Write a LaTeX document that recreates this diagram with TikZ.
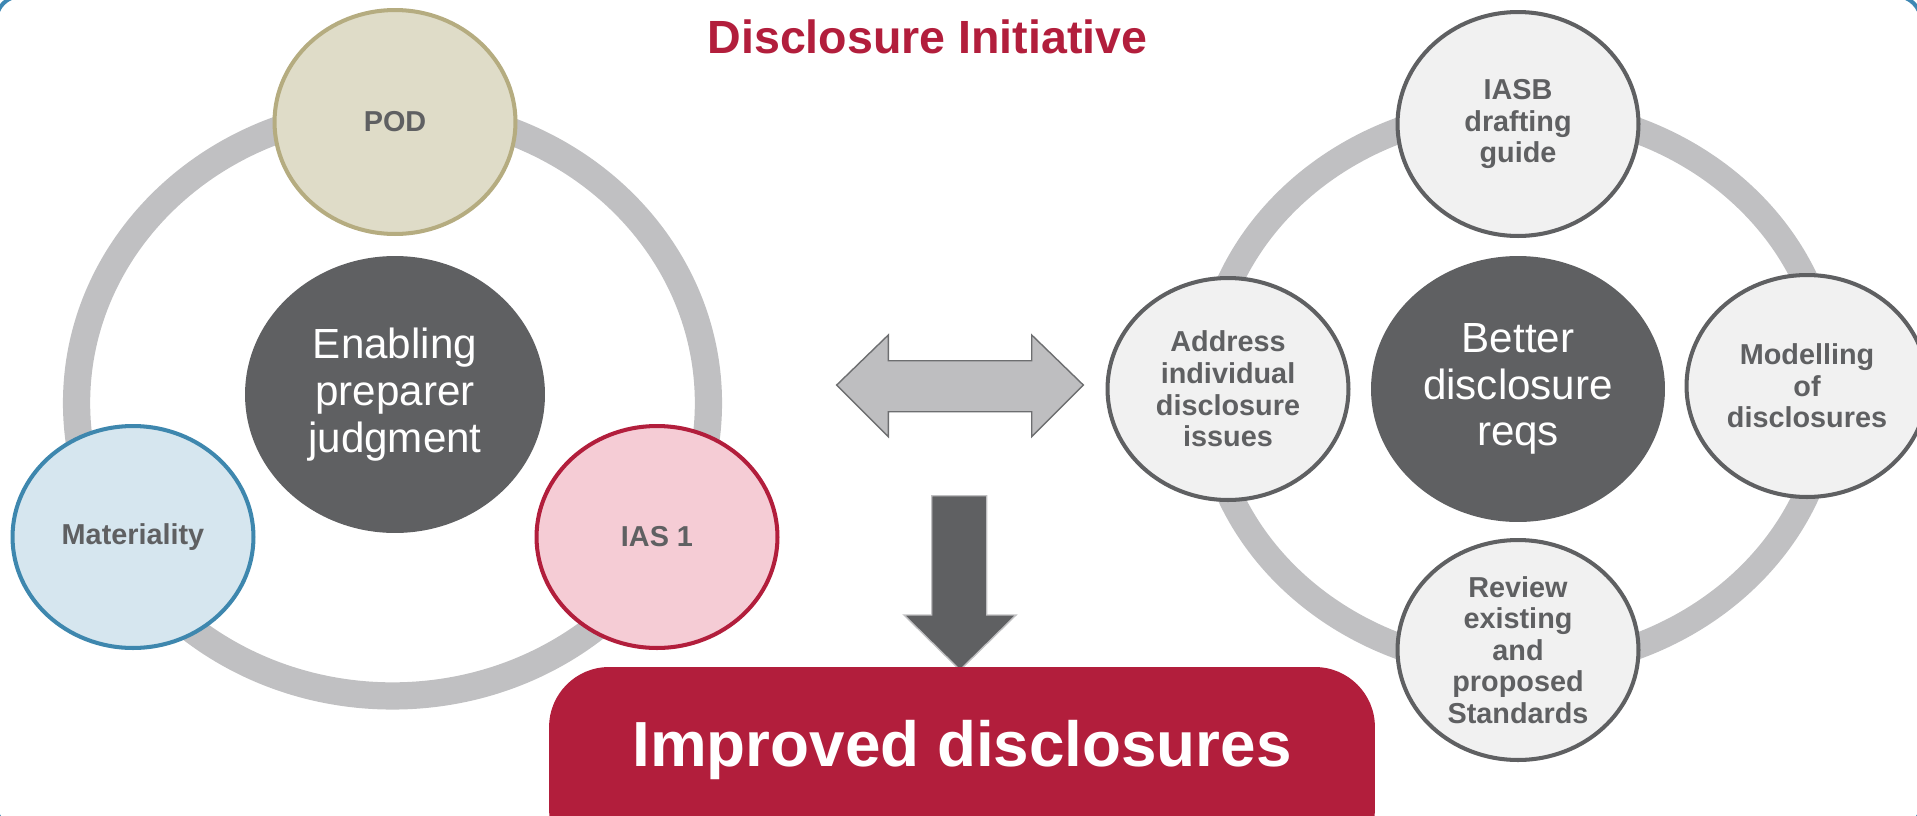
\documentclass[tikz,border=0pt]{standalone}
\usepackage{fontspec}
\setmainfont{Liberation Sans}
\usetikzlibrary{shapes.geometric}

\definecolor{frameblue}{HTML}{3D87B3}
\definecolor{ifrsred}{HTML}{B21E3C}
\definecolor{coregrey}{HTML}{5F6062}
\definecolor{ringgrey}{HTML}{C0C0C2}
\definecolor{bubblefill}{HTML}{F1F1F1}
\definecolor{podfill}{HTML}{DFDCC8}
\definecolor{podedge}{HTML}{B5AC80}
\definecolor{matfill}{HTML}{D6E6EF}
\definecolor{matedge}{HTML}{3E87AE}
\definecolor{iasfill}{HTML}{F5CCD5}
\definecolor{arrowfill}{HTML}{BEBEC0}
\definecolor{arrowedge}{HTML}{6D6E70}

\tikzset{
    %Define style for the small bubbles
    punkt/.style={
           ellipse,
           draw=coregrey, line width=2.3pt,
           fill=bubblefill,
           inner sep=0pt,
           minimum width=4.82cm,
           minimum height=4.44cm,
           align=center,
           text=coregrey,
           font=\fontsize{16.4}{18}\selectfont\bfseries},
    %Define style for the dark centre bubbles
    kjerne/.style={
           ellipse,
           fill=coregrey,
           inner sep=0pt,
           align=center,
           text=white,
           font=\fontsize{24}{26.6}\selectfont},
    % Define style for the grey rings
    ring/.style={
           draw=ringgrey,
           line width=15.5pt},
    % Define style for the block arrows
    blokkpil/.style={
           line width=0.8pt,
           line join=miter}
}

\begin{document}
\begin{tikzpicture}[x=0.02cm, y=-0.02cm]
\useasboundingbox (0,0) rectangle (1917,815);
\draw[frameblue, line width=2.3pt, rounded corners=0.5cm] (-4,-4) rectangle (1921,830);

\node[anchor=base, text=ifrsred, font=\fontsize{26.5}{30}\selectfont\bfseries] (title)
    at (927.5,53.3) {Disclosure Initiative};

% left cycle
\draw[ring] (392.5,403) ellipse [x radius=6.32cm, y radius=5.86cm];
\node[kjerne, minimum width=6cm, minimum height=5.54cm] (judgment) at (395,394.5) {Enabling\\preparer\\judgment};
\node[punkt, fill=podfill, draw=podedge, minimum height=4.48cm] (pod) at (395,122) {POD};
\node[punkt, fill=matfill, draw=matedge] (materiality) at (133,537) {Materiality};
\node[punkt, fill=iasfill, draw=ifrsred] (ias) at (657,537) {IAS 1};

% right cycle
\draw[ring, line width=14.7pt] (1518,388.4) ellipse [x radius=6.24cm, y radius=5.58cm];
\node[kjerne, minimum width=5.88cm, minimum height=5.32cm] (reqs) at (1518,389) {Better\\disclosure\\reqs};
\node[punkt, minimum height=4.48cm] (guide) at (1518,124) {IASB\\drafting\\guide};
\node[punkt] (issues) at (1228,389) {Address\\individual\\disclosure\\issues};
\node[punkt] (modelling) at (1807,386) {Modelling\\of\\disclosures};
\node[punkt, minimum height=4.4cm] (review) at (1518,650) {Review\\existing\\and\\proposed\\Standards};

% arrows between the cycles and down to the result
\draw[blokkpil, fill=arrowfill, draw=arrowedge]
    (836.7,385) -- (888.3,335) -- (888.3,360.7) -- (1031.7,360.7) -- (1031.7,335)
    -- (1083.3,385) -- (1031.7,436.7) -- (1031.7,411.7) -- (888.3,411.7) -- (888.3,436.7) -- cycle;
\draw[blokkpil, fill=coregrey, draw=ringgrey]
    (931.7,495.7) -- (986.7,495.7) -- (986.7,615) -- (1016,615) -- (960,670)
    -- (904,615) -- (931.7,615) -- cycle;

\node[rectangle, rounded corners=1.2cm, fill=ifrsred, minimum width=16.52cm, minimum height=4.04cm] (improved) at (962,768) {};
\node[anchor=base, text=white, font=\fontsize{36.3}{40}\selectfont\bfseries] (improvedtext)
    at (962,766.7) {Improved disclosures};
\end{tikzpicture}
\end{document}
